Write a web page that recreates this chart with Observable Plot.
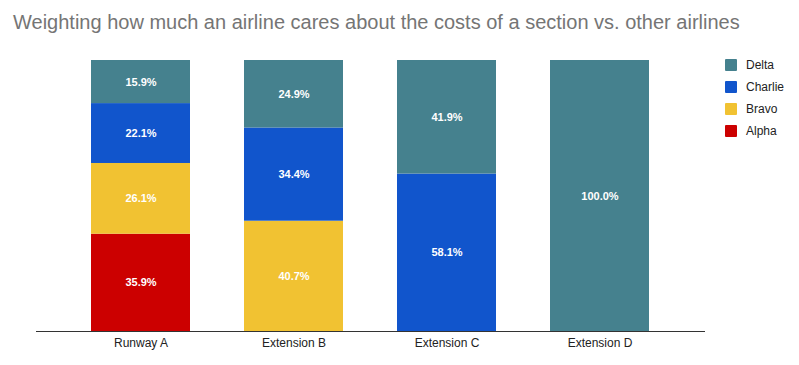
<!DOCTYPE html>
<html>
<head>
<meta charset="utf-8">
<script src="https://cdn.jsdelivr.net/npm/d3@7"></script>
<script src="https://cdn.jsdelivr.net/npm/@observablehq/plot@0.6"></script>
<style>
  html, body { margin: 0; padding: 0; background: #fff; }
  #wrap { position: relative; width: 799px; height: 365px; font-family: "Liberation Sans", Arial, sans-serif; }
  #title { position: absolute; left: 13px; top: 11px; font-size: 20px; color: #757575; white-space: nowrap; }
  #chart { position: absolute; left: 0; top: 40px; }
  #legend { position: absolute; left: 725px; top: 54px; font-size: 12px; color: #222; }
  .item { display: flex; align-items: center; height: 22px; }
  .sw { width: 12px; height: 12px; margin-right: 9px; border-radius: 1px; }
</style>
</head>
<body>
<div id="wrap">
  <div id="title">Weighting how much an airline cares about the costs of a section vs. other airlines</div>
  <div id="chart"></div>
  <div id="legend"></div>
</div>
<script>
const categories = ["Runway A", "Extension B", "Extension C", "Extension D"];
const series = ["Alpha", "Bravo", "Charlie", "Delta"];
const colors = ["#cc0000", "#f1c232", "#1155cc", "#45818e"];
const alpha   = [35.9, 0, 0, 0];
const bravo   = [26.1, 40.7, 0, 0];
const charlie = [22.1, 34.4, 58.1, 0];
const delta   = [15.9, 24.9, 41.9, 100.0];
const legendOrder = ["Delta", "Charlie", "Bravo", "Alpha"];

const valuesBySeries = [alpha, bravo, charlie, delta];
const data = [];
series.forEach((s, si) => {
  categories.forEach((c, ci) => {
    const v = valuesBySeries[si][ci];
    if (v > 0) data.push({category: c, series: s, value: v});
  });
});

const chart = Plot.plot({
  width: 799,
  height: 325,
  marginLeft: 36,
  marginRight: 94,
  marginTop: 20,
  marginBottom: 34,
  style: {fontFamily: "'Liberation Sans', Arial, sans-serif", fontSize: "12px", color: "#222", background: "#fff"},
  x: {domain: categories, padding: 0.35, label: null, tickSize: 0, tickPadding: 7},
  y: {domain: [0, 100], axis: null},
  color: {domain: series, range: colors},
  marks: [
    Plot.barY(data, Plot.stackY({x: "category", y: "value", fill: "series", order: series})),
    Plot.text(data, Plot.stackY({x: "category", y: "value", z: "series", order: series,
      text: d => d.value.toFixed(1) + "%", fill: "#fff", fontSize: 11, fontWeight: "bold"})),
    Plot.ruleY([0], {stroke: "#333", strokeWidth: 1})
  ]
});
document.getElementById("chart").appendChild(chart);

const leg = document.getElementById("legend");
legendOrder.forEach(s => {
  const it = document.createElement("div");
  it.className = "item";
  const sw = document.createElement("div");
  sw.className = "sw";
  sw.style.background = colors[series.indexOf(s)];
  const t = document.createElement("span");
  t.textContent = s;
  it.appendChild(sw); it.appendChild(t);
  leg.appendChild(it);
});
</script>
</body>
</html>
